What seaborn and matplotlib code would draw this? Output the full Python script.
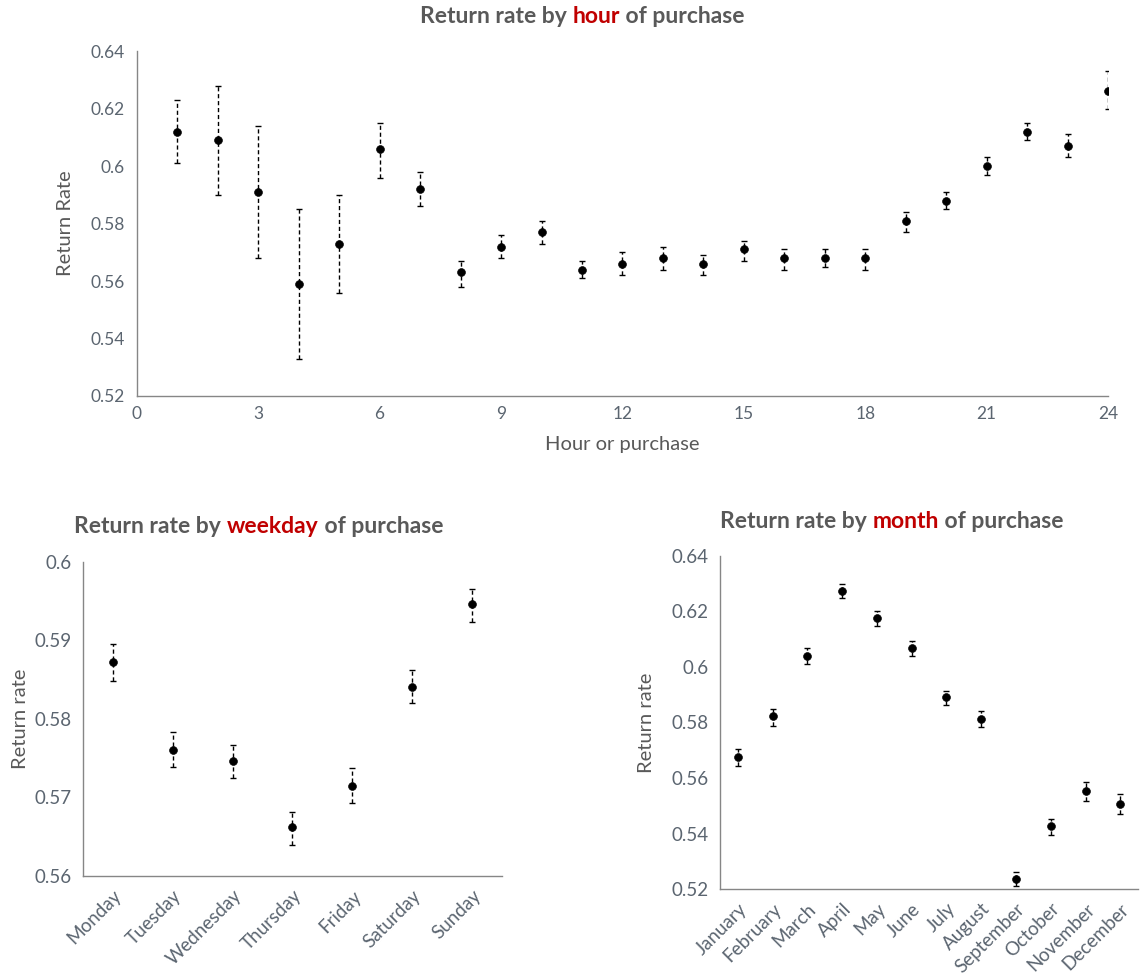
import numpy as np
import matplotlib
matplotlib.use("Agg")
import matplotlib.pyplot as plt
import seaborn as sns

# hourly return rate with error bar bounds
hours = list(range(1, 25))
hour_rate = [0.612, 0.609, 0.591, 0.559, 0.573, 0.606, 0.592, 0.563, 0.572, 0.577, 0.564, 0.566,
             0.568, 0.566, 0.571, 0.568, 0.568, 0.568, 0.581, 0.588, 0.600, 0.612, 0.607, 0.626]
hour_low = [0.601, 0.590, 0.568, 0.533, 0.556, 0.596, 0.586, 0.558, 0.568, 0.573, 0.561, 0.562,
            0.564, 0.562, 0.567, 0.564, 0.565, 0.564, 0.577, 0.585, 0.597, 0.609, 0.603, 0.620]
hour_high = [0.623, 0.628, 0.614, 0.585, 0.590, 0.615, 0.598, 0.567, 0.576, 0.581, 0.567, 0.570,
             0.572, 0.569, 0.574, 0.571, 0.571, 0.571, 0.584, 0.591, 0.603, 0.615, 0.611, 0.633]

days = ["Monday", "Tuesday", "Wednesday", "Thursday", "Friday", "Saturday", "Sunday"]
day_rate = [0.5873, 0.5761, 0.5747, 0.5662, 0.5715, 0.5841, 0.5946]
day_low = [0.5849, 0.5739, 0.5725, 0.5640, 0.5693, 0.5820, 0.5924]
day_high = [0.5895, 0.5783, 0.5767, 0.5682, 0.5738, 0.5862, 0.5966]

months = ["January", "February", "March", "April", "May", "June", "July", "August",
          "September", "October", "November", "December"]
month_rate = [0.5675, 0.5822, 0.6039, 0.6275, 0.6177, 0.6069, 0.5891, 0.5813, 0.5238, 0.5426, 0.5553, 0.5508]
month_low = [0.5645, 0.5788, 0.6009, 0.6247, 0.6148, 0.6041, 0.5862, 0.5782, 0.5210, 0.5394, 0.5517, 0.5470]
month_high = [0.5703, 0.5849, 0.6069, 0.6299, 0.6202, 0.6094, 0.5912, 0.5840, 0.5261, 0.5454, 0.5586, 0.5542]

sns.set_style("white")
plt.rcParams['font.family'] = ['Lato', 'DejaVu Sans']

GREY = "#595959"
TICK = "#5B6570"
RED = "#C00000"
AXIS = "#868686"


def add_title(ax, word, x_center, y, size=16.5):
    # three pieces so the middle word can be red
    fig = ax.figure
    parts = [("Return rate by ", GREY), (word, RED), (" of purchase", GREY)]
    texts = []
    for s, c in parts:
        t = fig.text(0, y, s, color=c, fontsize=size, fontweight="bold", va="baseline")
        texts.append(t)
    fig.canvas.draw()
    r = fig.canvas.get_renderer()
    widths = [tt.get_window_extent(r).width for tt in texts]
    total = sum(widths)
    fw = fig.bbox.width
    x = x_center * fw - total / 2
    for tt, w in zip(texts, widths):
        tt.set_position((x / fw, y))
        x += w


def draw_points(ax, x, rate, low, high):
    rate = np.array(rate)
    err = [rate - np.array(low), np.array(high) - rate]
    eb = ax.errorbar(x, rate, yerr=err, fmt="none", ecolor="black", elinewidth=1.0,
                     capsize=2.5, capthick=1.0)
    eb[2][0].set_linestyle((0, (3, 2)))
    sns.scatterplot(x=x, y=rate, ax=ax, color="black", s=32, edgecolor="black", zorder=3)


def style_axes(ax, labelsize):
    sns.despine(ax=ax)
    for sp in ["left", "bottom"]:
        ax.spines[sp].set_color(AXIS)
        ax.spines[sp].set_linewidth(1.0)
    ax.tick_params(axis="both", colors=AXIS, labelcolor=TICK, labelsize=labelsize, width=1.0)
    ax.tick_params(axis="y", length=5, direction="out")


fig = plt.figure(figsize=(11.4, 9.77), dpi=100)

# top: hour
ax1 = fig.add_axes([0.120, 0.5947, 0.852, 0.353])
draw_points(ax1, hours, hour_rate, hour_low, hour_high)
ax1.set_xlim(0, 24)
ax1.set_ylim(0.52, 0.64)
ax1.set_xticks(range(0, 25, 3))
ax1.set_yticks(np.arange(0.52, 0.641, 0.02))
ax1.set_yticklabels(["0.52", "0.54", "0.56", "0.58", "0.6", "0.62", "0.64"])
style_axes(ax1, 12.5)
ax1.tick_params(axis="x", direction="inout", length=8)
ax1.set_xlabel("Hour or purchase", color=GREY, fontsize=14.5, labelpad=10)
ax1.set_ylabel("Return Rate", color=GREY, fontsize=14.5, labelpad=12)

# bottom left: weekday
ax2 = fig.add_axes([0.0728, 0.1034, 0.3675, 0.3214])
xd = np.arange(len(days))
draw_points(ax2, xd, day_rate, day_low, day_high)
ax2.set_xlim(-0.5, len(days) - 0.5)
ax2.set_ylim(0.56, 0.60)
ax2.set_yticks([0.56, 0.57, 0.58, 0.59, 0.60])
ax2.set_yticklabels(["0.56", "0.57", "0.58", "0.59", "0.6"])
ax2.set_xticks(xd)
ax2.set_xticklabels(days, rotation=45, ha="right", rotation_mode="anchor")
ax2.set_xticks(np.arange(-0.5, len(days)), minor=True)
style_axes(ax2, 13.5)
ax2.tick_params(axis="x", which="major", length=0, pad=8)
ax2.tick_params(axis="x", which="minor", length=5, direction="out", color=AXIS)
ax2.set_ylabel("Return rate", color=GREY, fontsize=14.5, labelpad=4)

# bottom right: month
ax3 = fig.add_axes([0.632, 0.090, 0.366, 0.341])
xm = np.arange(len(months))
draw_points(ax3, xm, month_rate, month_low, month_high)
ax3.set_xlim(-0.5, len(months) - 0.5)
ax3.set_ylim(0.52, 0.64)
ax3.set_yticks(np.arange(0.52, 0.641, 0.02))
ax3.set_yticklabels(["0.52", "0.54", "0.56", "0.58", "0.6", "0.62", "0.64"])
ax3.set_xticks(xm)
ax3.set_xticklabels(months, rotation=45, ha="right", rotation_mode="anchor")
ax3.set_xticks(np.arange(-0.5, len(months)), minor=True)
style_axes(ax3, 13.5)
ax3.tick_params(axis="x", which="major", length=0, pad=8)
ax3.tick_params(axis="x", which="minor", length=5, direction="out", color=AXIS)
ax3.set_ylabel("Return rate", color=GREY, fontsize=14.5, labelpad=12)

add_title(ax1, "hour", 0.511, 0.976)
add_title(ax2, "weekday", 0.227, 0.454)
add_title(ax3, "month", 0.782, 0.460)

fig.savefig("out.png", dpi=100)
